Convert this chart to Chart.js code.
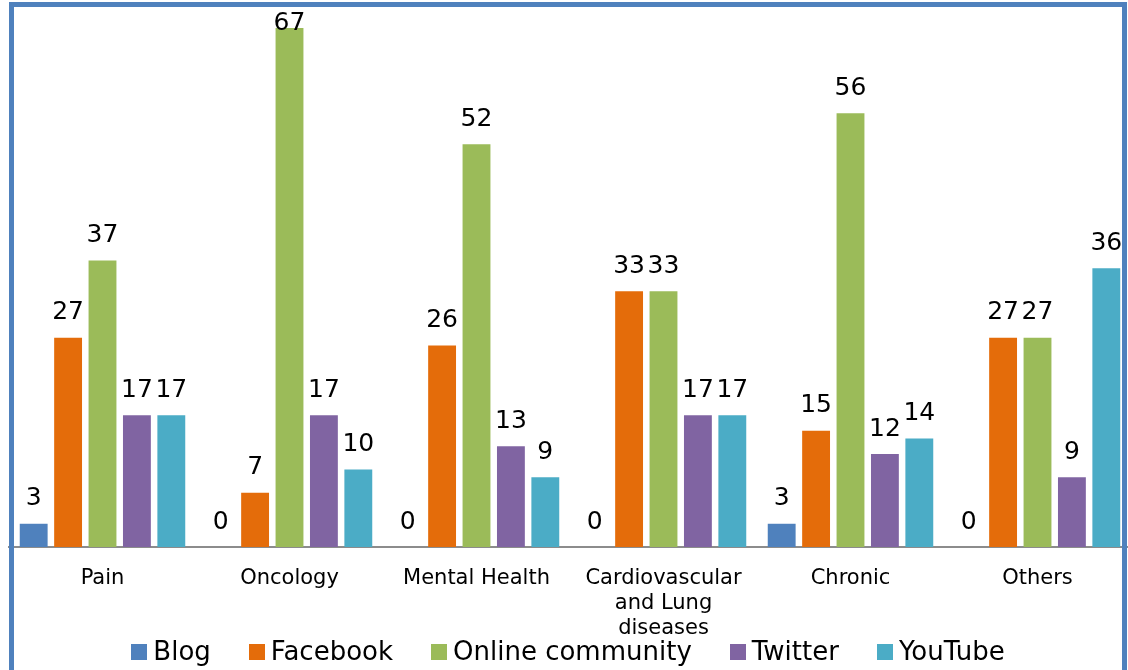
<!DOCTYPE html>
<html>
<head>
<meta charset="utf-8">
<script src="https://cdn.jsdelivr.net/npm/chart.js@4.4.0/dist/chart.umd.min.js"></script>
<style>
  html, body { margin: 0; padding: 0; background: #fff; }
  #wrap { position: relative; width: 1128px; height: 670px; overflow: hidden; background: #fff; }
  #chart_ctx { position: absolute; left: 0; top: 0; }
  #frame {
    position: absolute; left: 9px; top: 2px; width: 1108px; height: 700px;
    border: 5px solid #4F81BD; border-bottom: none; pointer-events: none;
  }
  #legend {
    position: absolute; left: 0; top: 636px; width: 1136px;
    display: flex; justify-content: center;
    font-family: "DejaVu Sans"; font-size: 26px; color: #000; line-height: 31px;
  }
  .item { display: flex; align-items: center; margin: 0 19px; white-space: nowrap; }
  .box { width: 16px; height: 16px; margin-right: 6px; }
</style>
</head>
<body>
<div id="wrap">
  <canvas id="chart_ctx" width="1140" height="670"></canvas>
  <div id="legend"></div>
  <div id="frame"></div>
</div>
<script>
let categories = [
  "Pain",
  "Oncology",
  "Mental Health",
  ["Cardiovascular", "and Lung", "diseases"],
  "Chronic",
  "Others",
];
let blog = [3, 0, 0, 0, 3, 0];
let facebook = [27, 7, 26, 33, 15, 27];
let onlineCommunity = [37, 67, 52, 33, 56, 27];
let twitter = [17, 17, 13, 17, 12, 9];
let youtube = [17, 10, 9, 17, 14, 36];

let seriesNames = ["Blog", "Facebook", "Online community", "Twitter", "YouTube"];
let seriesColors = ["#4F81BD", "#E46C0A", "#9BBB59", "#8064A2", "#4BACC6"];
let seriesData = [blog, facebook, onlineCommunity, twitter, youtube];

var chartCtx = document.getElementById("chart_ctx").getContext("2d");

// values written above each bar
let barLabels = {
  id: "barLabels",
  afterDatasetsDraw(chart) {
    let ctx = chart.ctx;
    ctx.save();
    ctx.font = "25px 'DejaVu Sans'";
    ctx.fillStyle = "#000";
    ctx.textAlign = "center";
    ctx.textBaseline = "middle";
    chart.data.datasets.forEach((ds, i) => {
      chart.getDatasetMeta(i).data.forEach((bar, j) => {
        let y = Math.max(bar.y - 25, 23);
        ctx.fillText(String(ds.data[j]), bar.x, y);
      });
    });
    ctx.restore();
  },
};

let datasets = seriesNames.map((name, i) => ({
  label: name,
  data: seriesData[i],
  backgroundColor: seriesColors[i],
  barPercentage: 0.81,
  categoryPercentage: 0.92,
}));

var myChart = new Chart(chartCtx, {
  type: "bar",
  data: { labels: categories, datasets },
  plugins: [barLabels],
  options: {
    responsive: false,
    animation: false,
    layout: { padding: { top: 28, left: 9, right: 9, bottom: 0 } },
    scales: {
      y: { display: false, min: 0, max: 67 },
      x: {
        grid: { display: false, drawTicks: false },
        border: { display: true, color: "#8c8c8c", width: 2 },
        ticks: {
          color: "#000",
          padding: 19,
          maxRotation: 0,
          autoSkip: false,
          font: { family: "DejaVu Sans", size: 21, lineHeight: 1.2 },
        },
        afterFit(scale) {
          scale.height = 123;
        },
      },
    },
    plugins: {
      tooltip: { enabled: false },
      legend: { display: false },
    },
  },
});

// legend built from the same series arrays
let legendBox = document.getElementById("legend");
seriesNames.forEach((name, i) => {
  let item = document.createElement("span");
  item.className = "item";
  let box = document.createElement("span");
  box.className = "box";
  box.style.background = seriesColors[i];
  item.appendChild(box);
  item.appendChild(document.createTextNode(name));
  legendBox.appendChild(item);
});
</script>
</body>
</html>
